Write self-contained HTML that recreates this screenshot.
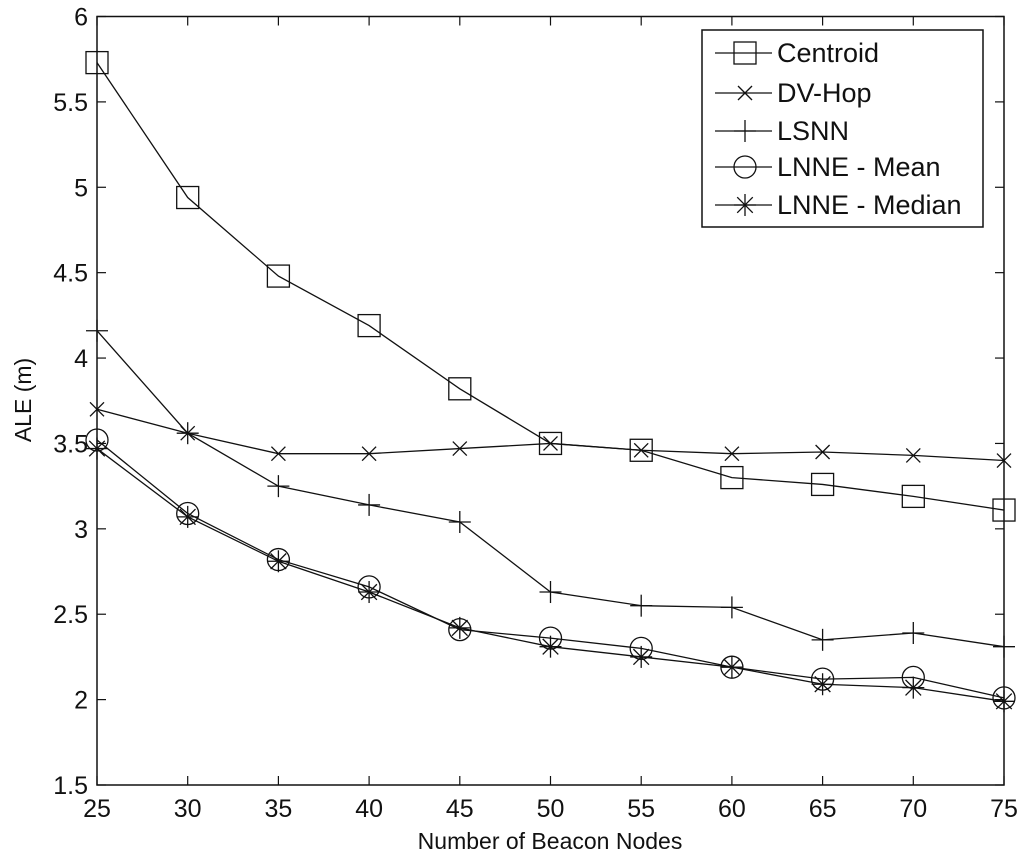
<!DOCTYPE html>
<html><head><meta charset="utf-8"><style>
body{margin:0;background:#fff;}
svg text{font-family:"Liberation Sans",Arial,sans-serif;fill:#111;}
</style></head><body>
<svg id="chart" width="1024" height="859" xmlns="http://www.w3.org/2000/svg"></svg>
<script>
const xValues=[25,30,35,40,45,50,55,60,65,70,75];
const centroid=[5.73,4.94,4.48,4.19,3.82,3.50,3.46,3.30,3.26,3.19,3.11];
const dvhop=[3.70,3.56,3.44,3.44,3.47,3.50,3.46,3.44,3.45,3.43,3.40];
const lsnn=[4.16,3.56,3.25,3.14,3.04,2.63,2.55,2.54,2.35,2.39,2.31];
const lnneMean=[3.52,3.09,2.82,2.66,2.41,2.36,2.30,2.19,2.12,2.13,2.01];
const lnneMedian=[3.47,3.07,2.81,2.63,2.42,2.31,2.25,2.19,2.09,2.07,1.99];
const xTicks=[25,30,35,40,45,50,55,60,65,70,75];
const yTicks=[1.5,2,2.5,3,3.5,4,4.5,5,5.5,6];
const seriesNames=["Centroid","DV-Hop","LSNN","LNNE - Mean","LNNE - Median"];

const L=97,R=1004,T=16.5,B=785;
const sx=v=>L+(v-25)/(75-25)*(R-L);
const sy=v=>B-(v-1.5)/(6-1.5)*(B-T);
const svg=document.getElementById('chart');
const NS='http://www.w3.org/2000/svg';
function mk(tag,attrs,parent){const e=document.createElementNS(NS,tag);for(const k in attrs)e.setAttribute(k,attrs[k]);(parent||svg).appendChild(e);return e;}

const frame=mk('rect',{x:L,y:T,width:R-L,height:B-T,fill:'none',stroke:'#111','stroke-width':1.5});



xTicks.forEach(v=>{
  const g=mk('g',{});
  
  
  mk('line',{x1:sx(v),x2:sx(v),y1:B,y2:B-9,stroke:'#111','stroke-width':1.2},g);
  mk('line',{x1:sx(v),x2:sx(v),y1:T,y2:T+9,stroke:'#111','stroke-width':1.2},g);
  const t=mk('text',{x:sx(v),y:B+32,'text-anchor':'middle','font-size':25},g);t.textContent=v;
});
yTicks.forEach(v=>{
  const g=mk('g',{});
  
  
  mk('line',{x1:L,x2:L+9,y1:sy(v),y2:sy(v),stroke:'#111','stroke-width':1.2},g);
  mk('line',{x1:R,x2:R-9,y1:sy(v),y2:sy(v),stroke:'#111','stroke-width':1.2},g);
  const t=mk('text',{x:L-9,y:sy(v)+9,'text-anchor':'end','font-size':25},g);t.textContent=v;
});
const xl=mk('text',{x:550,y:849,'text-anchor':'middle','font-size':23});xl.textContent='Number of Beacon Nodes';


const yl=mk('text',{x:0,y:0,'text-anchor':'middle','font-size':23,transform:'translate(31,400) rotate(-90)'});yl.textContent='ALE (m)';



function marker(type,x,y,g){
  const st={stroke:'#111','stroke-width':1.3,fill:'none'};
  if(type==='square')mk('rect',Object.assign({x:x-11,y:y-11,width:22,height:22},st),g);
  else if(type==='x'){mk('line',Object.assign({x1:x-7,y1:y-7,x2:x+7,y2:y+7},st),g);mk('line',Object.assign({x1:x-7,y1:y+7,x2:x+7,y2:y-7},st),g);}
  else if(type==='plus'){mk('line',Object.assign({x1:x-11,y1:y,x2:x+11,y2:y},st),g);mk('line',Object.assign({x1:x,y1:y-11,x2:x,y2:y+11},st),g);}
  else if(type==='circle')mk('circle',Object.assign({cx:x,cy:y,r:11},st),g);
  else if(type==='star'){for(let a=0;a<4;a++){const an=a*Math.PI/4;mk('line',Object.assign({x1:x-11*Math.cos(an),y1:y-11*Math.sin(an),x2:x+11*Math.cos(an),y2:y+11*Math.sin(an)},st),g);}}
}
const allSeries=[centroid,dvhop,lsnn,lnneMean,lnneMedian];
const markers=['square','x','plus','circle','star'];
const slugs=['centroid','dv-hop','lsnn','lnne-mean','lnne-median'];
allSeries.forEach((data,i)=>{
  const g=mk('g',{});
  
  
  mk('polyline',{points:data.map((v,j)=>sx(xValues[j])+','+sy(v)).join(' '),fill:'none',stroke:'#111','stroke-width':1.3},g);
  data.forEach((v,j)=>marker(markers[i],sx(xValues[j]),sy(v),g));
});

const lg=mk('g',{});


mk('rect',{x:702,y:30,width:281,height:197,fill:'#fff',stroke:'#111','stroke-width':1.5},lg);
const ly=[53,93,131,167,205];
seriesNames.forEach((n,i)=>{
  const e=mk('g',{},lg);
  
  
  mk('line',{x1:715,x2:772,y1:ly[i],y2:ly[i],stroke:'#111','stroke-width':1.3},e);
  marker(markers[i],745,ly[i],e);
  const t=mk('text',{x:777,y:ly[i]+9,'font-size':27},e);
  t.textContent=n;
});
</script>
</body></html>
